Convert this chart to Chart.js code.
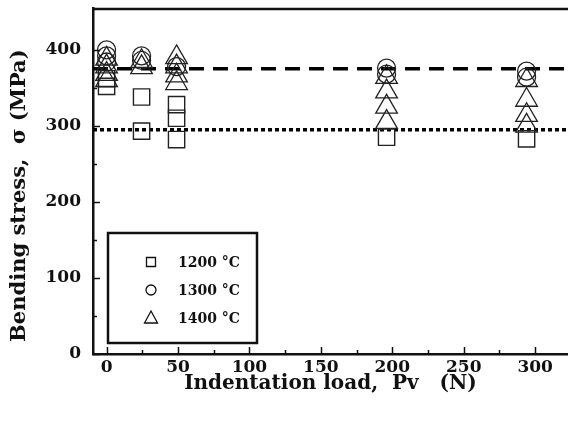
<!DOCTYPE html>
<html>
<head>
<meta charset="utf-8">
<script src="https://cdn.jsdelivr.net/npm/chart.js@4.4.0/dist/chart.umd.min.js"></script>
<style>
  html, body { margin: 0; padding: 0; background: #fff; }
  #wrap { width: 568px; height: 423px; }
</style>
</head>
<body>
<div id="wrap"><canvas id="canvas"></canvas></div>
<script>
    // values (load in N, stress in MPa)
    var seriesLabels = ["1200 °C", "1300 °C", "1400 °C"];
    var data1200 = [
        {x: 0, y: 352}, {x: 0, y: 362},
        {x: 24.5, y: 338}, {x: 24.5, y: 293},
        {x: 49, y: 328}, {x: 49, y: 310}, {x: 49, y: 282},
        {x: 196, y: 285},
        {x: 294, y: 283}
    ];
    var data1300 = [
        {x: 0, y: 400}, {x: 0, y: 392}, {x: 0, y: 384},
        {x: 24.5, y: 392}, {x: 24.5, y: 386},
        {x: 49, y: 378},
        {x: 196, y: 376}, {x: 196, y: 368},
        {x: 294, y: 372}, {x: 294, y: 364}
    ];
    var data1400 = [
        {x: 0, y: 388}, {x: 0, y: 378}, {x: 0, y: 368}, {x: 0, y: 360},
        {x: 24.5, y: 385}, {x: 24.5, y: 377},
        {x: 49, y: 390}, {x: 49, y: 378}, {x: 49, y: 366}, {x: 49, y: 356},
        {x: 196, y: 364}, {x: 196, y: 345}, {x: 196, y: 325}, {x: 196, y: 305},
        {x: 294, y: 360}, {x: 294, y: 334}, {x: 294, y: 314}, {x: 294, y: 300}
    ];
    var dashedLevel = 375;
    var dottedLevel = 295;

    var xMin = -9.5, xMax = 323;
    var yMin = 0, yMax = 455;
    var xTicks = [0, 25, 50, 75, 100, 125, 150, 175, 200, 225, 250, 275, 300];
    var yTicks = [0, 50, 100, 150, 200, 250, 300, 350, 400];

    var serif = "'DejaVu Serif', 'Liberation Serif', serif";
    var ink = '#111';

    var markerStyles = [
        {pointStyle: 'rect', radius: 11.5, borderWidth: 1.4},
        {pointStyle: 'circle', radius: 9, borderWidth: 1.3},
        {pointStyle: 'triangle', radius: 12.5, borderWidth: 1.3}
    ];

    function noPad(s) {
        s.paddingTop = 0; s.paddingBottom = 0;
        s.paddingLeft = 0; s.paddingRight = 0;
    }

    // inner tick marks, top frame line and boxed legend
    var framePlugin = {
        id: 'frame',
        afterDraw: function(chart) {
            var ctx = chart.ctx, a = chart.chartArea;
            var xs = chart.scales.x, ys = chart.scales.y;
            ctx.save();
            ctx.strokeStyle = ink;
            ctx.lineWidth = 1.5;
            ctx.beginPath();
            yTicks.forEach(function(v) {
                var py = Math.round(ys.getPixelForValue(v)) + 0.5;
                var len = v % 100 === 0 ? 7 : 4;
                ctx.moveTo(a.left, py);
                ctx.lineTo(a.left + len, py);
            });
            xTicks.forEach(function(v) {
                var px = Math.round(xs.getPixelForValue(v)) + 0.5;
                var len = v % 50 === 0 ? 7 : 4;
                ctx.moveTo(px, a.bottom);
                ctx.lineTo(px, a.bottom - len);
            });
            ctx.stroke();

            ctx.lineWidth = 2.5;
            ctx.beginPath();
            ctx.moveTo(a.left, a.top + 1);
            ctx.lineTo(a.right, a.top + 1);
            ctx.stroke();

            // legend
            var bx = a.left + 15, by = a.top + 225, bw = 149, bh = 110;
            ctx.fillStyle = '#fff';
            ctx.fillRect(bx, by, bw, bh);
            ctx.lineWidth = 2.5;
            ctx.strokeRect(bx, by, bw, bh);
            ctx.font = 'bold 14px ' + serif;
            ctx.textBaseline = 'middle';
            ctx.textAlign = 'left';
            ctx.fillStyle = ink;
            seriesLabels.forEach(function(lab, i) {
                var cy = by + 29 + i * 28;
                var cx = bx + 43;
                ctx.lineWidth = 1.3;
                ctx.beginPath();
                if (i === 0) {
                    ctx.rect(cx - 4.5, cy - 4.5, 9, 9);
                } else if (i === 1) {
                    ctx.arc(cx, cy, 5, 0, Math.PI * 2);
                } else {
                    ctx.moveTo(cx, cy - 7);
                    ctx.lineTo(cx + 6.5, cy + 5);
                    ctx.lineTo(cx - 6.5, cy + 5);
                    ctx.closePath();
                }
                ctx.stroke();
                ctx.fillText(lab, bx + 70, cy + 1);
            });
            ctx.restore();
        }
    };

    function markerSet(label, points, st) {
        return {
            type: 'scatter',
            label: label,
            data: points,
            pointStyle: st.pointStyle,
            pointRadius: st.radius,
            borderWidth: st.borderWidth,
            borderColor: '#222',
            backgroundColor: 'rgba(0,0,0,0)',
            order: 1
        };
    }

    function levelLine(level, dash) {
        return {
            type: 'line',
            data: [{x: xMin, y: level}, {x: xMax, y: level}],
            borderColor: '#000',
            borderWidth: 3.5,
            borderDash: dash,
            pointRadius: 0,
            fill: false,
            order: 2
        };
    }

    var config = {
        type: 'scatter',
        data: {
            datasets: [
                levelLine(dashedLevel, [15, 9]),
                levelLine(dottedLevel, [4, 3]),
                markerSet(seriesLabels[0], data1200, markerStyles[0]),
                markerSet(seriesLabels[1], data1300, markerStyles[1]),
                markerSet(seriesLabels[2], data1400, markerStyles[2])
            ]
        },
        options: {
            responsive: true,
            maintainAspectRatio: false,
            animation: false,
            layout: {
                autoPadding: false,
                padding: { top: 8, right: 0, left: 7, bottom: 27 }
            },
            plugins: {
                legend: { display: false },
                tooltip: { enabled: false }
            },
            scales: {
                x: {
                    type: 'linear',
                    min: xMin,
                    max: xMax,
                    afterBuildTicks: function(s) {
                        s.ticks = xTicks.map(function(v) { return {value: v}; });
                    },
                    afterFit: function(s) { s.height = 42; noPad(s); },
                    grid: { drawOnChartArea: false, drawTicks: false },
                    border: { color: ink, width: 2.5 },
                    ticks: {
                        autoSkip: false,
                        maxRotation: 0,
                        padding: 3,
                        color: ink,
                        font: { family: serif, size: 17, weight: 'bold' },
                        callback: function(v) { return v % 50 === 0 ? v : ''; }
                    },
                    title: {
                        display: true,
                        text: 'Indentation load,  Pv   (N)',
                        color: ink,
                        font: { family: serif, size: 20, weight: 'bold' },
                        padding: { top: 4, bottom: 0 }
                    }
                },
                y: {
                    min: yMin,
                    max: yMax,
                    afterBuildTicks: function(s) {
                        s.ticks = yTicks.map(function(v) { return {value: v}; });
                    },
                    afterFit: function(s) { s.width = 86; noPad(s); },
                    grid: { drawOnChartArea: false, drawTicks: false },
                    border: { color: ink, width: 2.5 },
                    ticks: {
                        autoSkip: false,
                        padding: 12,
                        color: ink,
                        font: { family: serif, size: 17, weight: 'bold' },
                        callback: function(v) { return v % 100 === 0 ? v : ''; }
                    },
                    title: {
                        display: true,
                        text: 'Bending stress,  σ (MPa)    ',
                        color: ink,
                        font: { family: serif, size: 21, weight: 'bold' },
                        padding: { top: 0, bottom: 2 }
                    }
                }
            }
        },
        plugins: [framePlugin]
    };

    window.onload = function() {
        window.myChart = new Chart(document.getElementById("canvas"), config);
    };
</script>
</body>
</html>
